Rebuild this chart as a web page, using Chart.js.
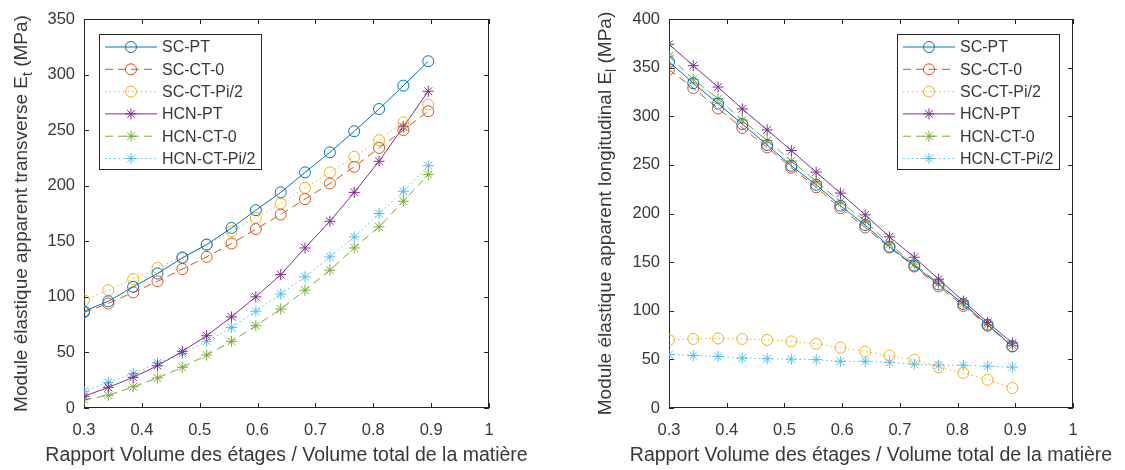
<!DOCTYPE html>
<html>
<head>
<meta charset="utf-8">
<script src="https://cdn.jsdelivr.net/npm/chart.js@4.4.0/dist/chart.umd.min.js"></script>
<style>
  html, body { margin: 0; padding: 0; background: #fff; }
  #wrap { position: relative; width: 1125px; height: 470px; overflow: hidden; }
  .panel { position: absolute; top: 0; }
</style>
</head>
<body>
<div id="wrap">
  <canvas id="chartT" class="panel" style="left:0px" width="560" height="470"></canvas>
  <canvas id="chartL" class="panel" style="left:560px" width="565" height="470"></canvas>
</div>
<script>
// x values: ratio of floor volume / total material volume
const xRatio = [0.300, 0.342, 0.385, 0.427, 0.470, 0.512, 0.555, 0.597, 0.640, 0.682, 0.725, 0.767, 0.810, 0.852, 0.895];
const xTicks = [0.3, 0.4, 0.5, 0.6, 0.7, 0.8, 0.9, 1];

// transverse modulus Et (MPa)
const scPtT = [87, 96, 109, 121, 135, 147, 162, 178, 194, 212, 230, 249, 269, 290, 312];
const scCt0T = [86, 94, 104, 114, 125, 136, 148, 161, 174, 188, 202, 217, 234, 250, 267];
const scCtPiT = [97, 106, 116, 126, 136, 147, 159, 171, 184, 198, 212, 226, 241, 257, 273];
const hcnPtT = [10.5, 18.6, 27.6, 38, 51, 65, 82, 100, 120, 144, 168, 194, 222, 253, 285];
const hcnCt0T = [7.5, 11.4, 19, 27, 36.6, 47.6, 60, 74, 89, 106, 124, 144, 163, 186, 210];
const hcnCtPiT = [15, 23, 31, 40.5, 49, 60, 72.5, 87, 102.5, 118, 136, 154, 175, 195, 218];

// longitudinal modulus El (MPa)
const scPtL = [356, 334, 313, 292, 270.5, 249, 229.5, 208, 188, 166, 146.5, 127, 107, 85.6, 63.4];
const scCt0L = [348, 329, 308, 288, 268, 247, 227, 205.5, 185.6, 165, 145.5, 125, 105, 84.6, 63.4];
const scCtPiL = [70, 71, 71.5, 71, 70, 68.5, 66, 62, 58, 54, 49.7, 42, 36, 29, 20.5];
const hcnPtL = [374, 352, 330, 307.5, 286, 264.7, 242.5, 221, 198.6, 176, 155, 132.5, 110, 88, 66.8];
const hcnCt0L = [362, 338, 318, 296, 275, 254, 233, 212, 192, 168.5, 148, 128, 107, 85.6, 64.4];
const hcnCtPiL = [55, 54, 53, 51.4, 50.7, 50.3, 49.7, 48, 48, 47, 45, 44, 44, 43, 42];

const seriesLabels = ['SC-PT', 'SC-CT-0', 'SC-CT-Pi/2', 'HCN-PT', 'HCN-CT-0', 'HCN-CT-Pi/2'];

// MATLAB default line colors / styles
const seriesStyles = [
  { color: '#0072BD', dash: [], marker: 'circle' },
  { color: '#D95319', dash: [8, 5], marker: 'circle' },
  { color: '#EDB120', dash: [1.5, 3], marker: 'circle' },
  { color: '#7E2F8E', dash: [], marker: 'star' },
  { color: '#77AC30', dash: [8, 5], marker: 'star' },
  { color: '#4DBEEE', dash: [1.5, 3], marker: 'star' },
];

const AXIS_COLOR = '#262626';
const TEXT_COLOR = '#383838';
const FONT = 'Liberation Sans, Arial, Helvetica, sans-serif';

function makeDatasets(values) {
  return values.map((vals, i) => ({
    label: seriesLabels[i],
    data: vals.map((v, k) => ({ x: xRatio[k], y: v })),
    borderColor: seriesStyles[i].color,
    backgroundColor: 'rgba(0,0,0,0)',
    borderDash: seriesStyles[i].dash,
    borderWidth: 1,
    pointStyle: seriesStyles[i].marker,
    pointRadius: 5.5,
    pointBorderWidth: 1,
    pointBorderColor: seriesStyles[i].color,
    pointBackgroundColor: 'rgba(0,0,0,0)',
    tension: 0,
    fill: false,
  }));
}

// Draws the MATLAB style box, inward ticks, titles and legend
const matlabAxes = {
  id: 'matlabAxes',
  beforeDatasetsDraw(chart, args, opts) {
    const { ctx, chartArea: a, scales } = chart;
    const tl = 5;
    ctx.save();
    ctx.strokeStyle = AXIS_COLOR;
    ctx.lineWidth = 1;
    ctx.strokeRect(Math.round(a.left) + 0.5, Math.round(a.top) + 0.5,
      Math.round(a.right - a.left) - 1, Math.round(a.bottom - a.top) - 1);
    ctx.beginPath();
    scales.x.ticks.forEach((t) => {
      const px = Math.round(scales.x.getPixelForValue(t.value)) + 0.5;
      ctx.moveTo(px, a.bottom); ctx.lineTo(px, a.bottom - tl);
      ctx.moveTo(px, a.top); ctx.lineTo(px, a.top + tl);
    });
    scales.y.ticks.forEach((t) => {
      const py = Math.round(scales.y.getPixelForValue(t.value)) + 0.5;
      ctx.moveTo(a.left, py); ctx.lineTo(a.left + tl, py);
      ctx.moveTo(a.right, py); ctx.lineTo(a.right - tl, py);
    });
    ctx.stroke();
    ctx.restore();
  },
  afterDraw(chart, args, opts) {
    const { ctx, chartArea: a } = chart;
    ctx.save();
    ctx.fillStyle = TEXT_COLOR;

    // x title
    ctx.font = `19.5px ${FONT}`;
    ctx.textAlign = 'center';
    ctx.textBaseline = 'middle';
    ctx.fillText(opts.xTitle, (a.left + a.right) / 2, opts.xTitleY);

    // y title with subscript
    ctx.save();
    ctx.translate(opts.yTitleX, (a.top + a.bottom) / 2);
    ctx.rotate(-Math.PI / 2);
    ctx.textAlign = 'left';
    ctx.font = `19px ${FONT}`;
    const w1 = ctx.measureText(opts.yTitle).width;
    const w3 = ctx.measureText(opts.yTitleEnd).width;
    ctx.font = `14px ${FONT}`;
    const w2 = ctx.measureText(opts.ySub).width;
    const x0 = -(w1 + w2 + w3) / 2;
    ctx.font = `19px ${FONT}`;
    ctx.fillText(opts.yTitle, x0, 0);
    ctx.font = `14px ${FONT}`;
    ctx.fillText(opts.ySub, x0 + w1, 6);
    ctx.font = `19px ${FONT}`;
    ctx.fillText(opts.yTitleEnd, x0 + w1 + w2, 0);
    ctx.restore();

    // legend
    const lg = opts.legend;
    ctx.fillStyle = '#ffffff';
    ctx.fillRect(lg.left, lg.top, lg.width, lg.height);
    ctx.strokeStyle = AXIS_COLOR;
    ctx.lineWidth = 1;
    ctx.setLineDash([]);
    ctx.strokeRect(lg.left + 0.5, lg.top + 0.5, lg.width, lg.height);
    chart.data.datasets.forEach((ds, i) => {
      const y = lg.top + 13 + i * 22.3;
      ctx.save();
      ctx.strokeStyle = ds.borderColor;
      ctx.setLineDash(ds.borderDash);
      ctx.beginPath();
      ctx.moveTo(lg.left + 6, y);
      ctx.lineTo(lg.left + 58, y);
      ctx.stroke();
      ctx.setLineDash([]);
      ctx.strokeStyle = ds.borderColor;
      ctx.fillStyle = 'rgba(0,0,0,0)';
      Chart.helpers.drawPoint(ctx, {
        pointStyle: ds.pointStyle, radius: 5.5, rotation: 0, borderWidth: 1,
      }, lg.left + 32, y);
      ctx.restore();
      ctx.fillStyle = TEXT_COLOR;
      ctx.font = `16px ${FONT}`;
      ctx.textAlign = 'left';
      ctx.textBaseline = 'middle';
      ctx.fillText(ds.label, lg.left + 63, y + 1);
    });
    ctx.restore();
  },
};

function makeChart(canvasId, values, yMax, cfg) {
  const canvas = document.getElementById(canvasId);
  return new Chart(canvas.getContext('2d'), {
    type: 'line',
    data: { datasets: makeDatasets(values) },
    plugins: [matlabAxes],
    options: {
      responsive: false,
      animation: false,
      events: [],
      layout: { padding: { top: 19, right: cfg.padRight, left: 0, bottom: 0 } },
      scales: {
        x: {
          type: 'linear',
          min: 0.3,
          max: 1,
          afterBuildTicks: (scale) => { scale.ticks = xTicks.map((v) => ({ value: v })); },
          afterFit: (scale) => { scale.height = 62; },
          grid: { display: false, drawTicks: false },
          border: { display: false },
          ticks: {
            padding: 13,
            color: TEXT_COLOR,
            font: { family: FONT, size: 16.5 },
            callback: (v) => String(+v.toFixed(1)),
          },
        },
        y: {
          min: 0,
          max: yMax,
          afterFit: (scale) => { scale.width = cfg.yWidth; },
          grid: { display: false, drawTicks: false },
          border: { display: false },
          ticks: {
            stepSize: 50,
            padding: 9,
            color: TEXT_COLOR,
            font: { family: FONT, size: 16.5 },
          },
        },
      },
      plugins: {
        legend: { display: false },
        tooltip: { enabled: false },
        matlabAxes: {
          xTitle: 'Rapport Volume des étages / Volume total de la matière',
          xTitleY: 456,
          yTitle: cfg.yTitle,
          ySub: cfg.ySub,
          yTitleEnd: ' (MPa)',
          yTitleX: cfg.yTitleX,
          legend: cfg.legend,
        },
      },
    },
  });
}

makeChart('chartT', [scPtT, scCt0T, scCtPiT, hcnPtT, hcnCt0T, hcnCtPiT], 350, {
  padRight: 71,
  yWidth: 84,
  yTitle: 'Module élastique apparent transverse E',
  ySub: 't',
  yTitleX: 22,
  legend: { left: 99, top: 34, width: 162, height: 135 },
});

makeChart('chartL', [scPtL, scCt0L, scCtPiL, hcnPtL, hcnCt0L, hcnCtPiL], 400, {
  padRight: 52,
  yWidth: 109,
  yTitle: 'Module élastique apparent longitudinal E',
  ySub: 'l',
  yTitleX: 46,
  legend: { left: 337, top: 34, width: 162, height: 135 },
});
</script>
</body>
</html>
